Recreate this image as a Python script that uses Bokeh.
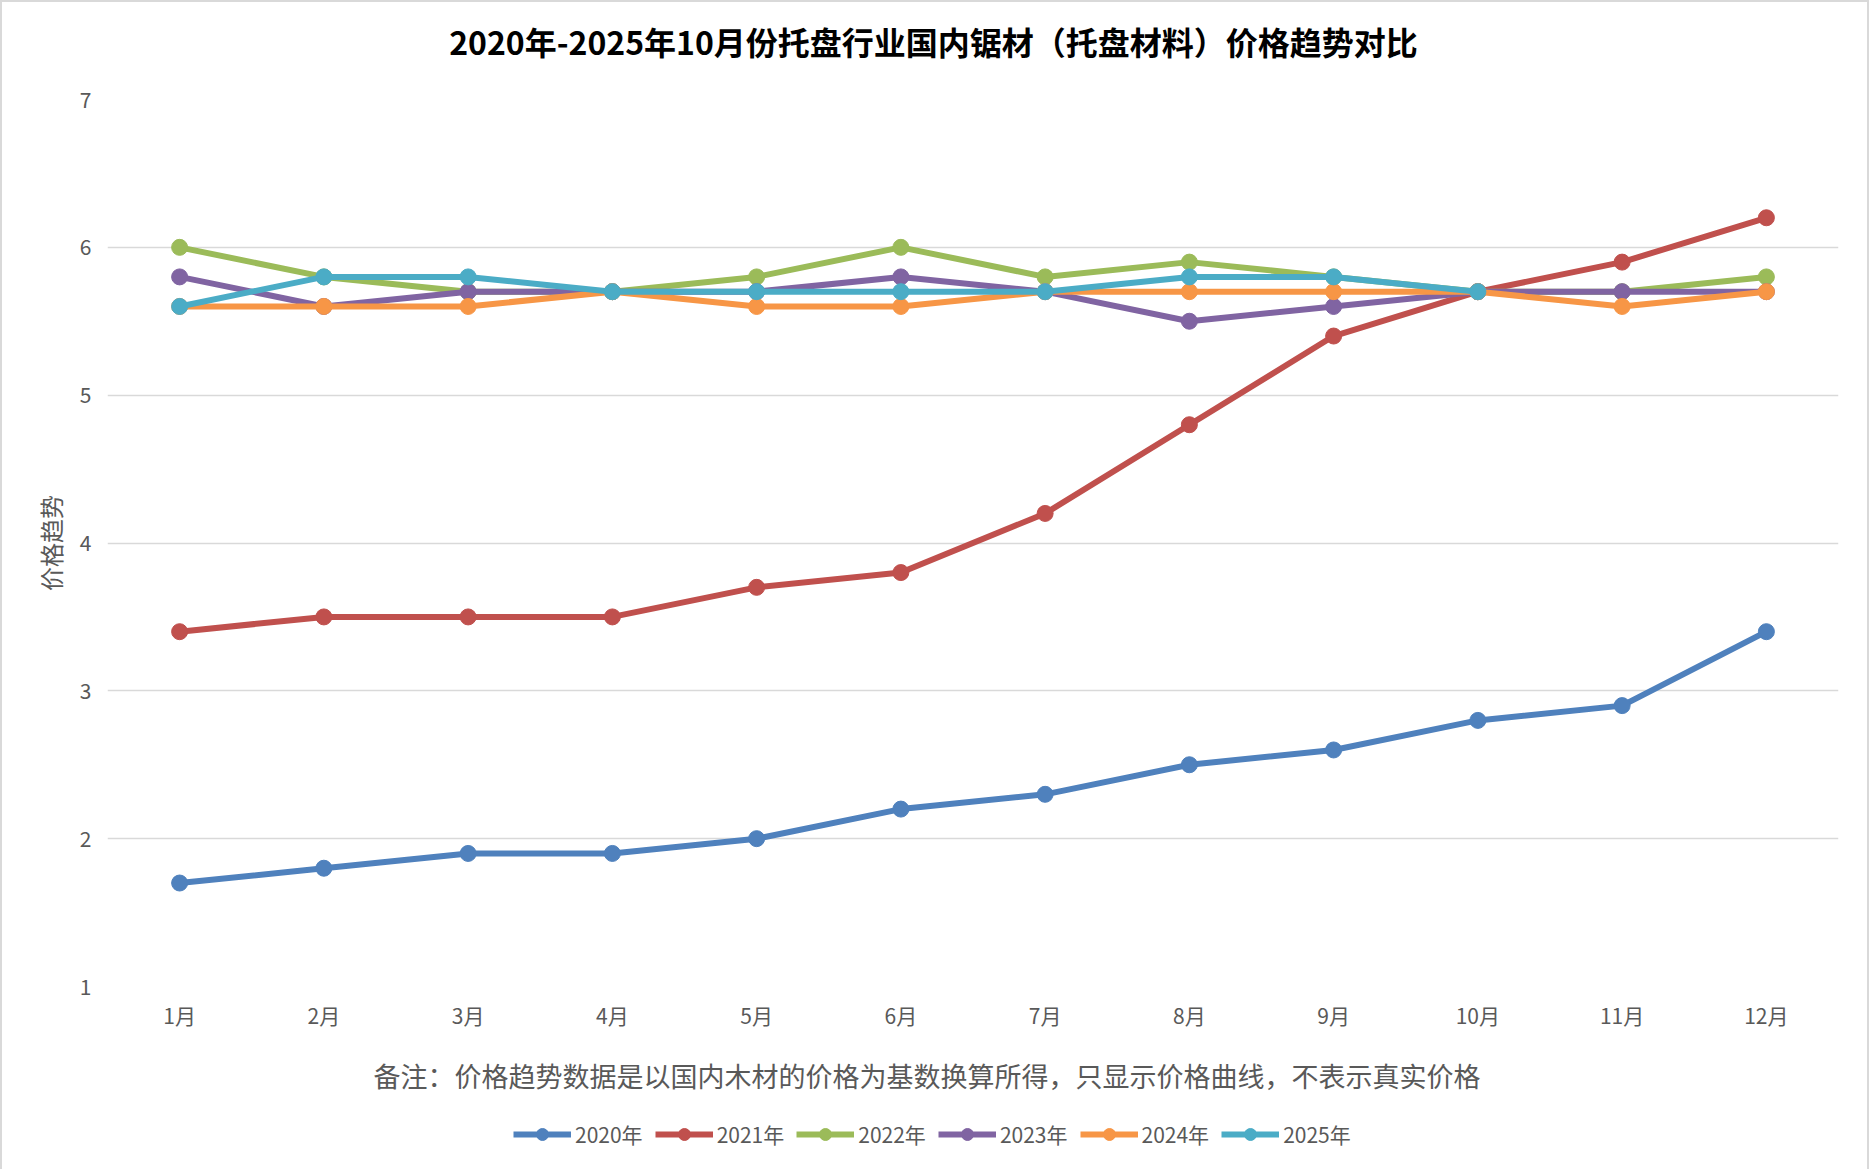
from bokeh.plotting import figure
from bokeh.layouts import column
from bokeh.models import Legend, LegendItem, Title, Label, Range1d, FactorRange
from bokeh.embed import file_html
from bokeh.resources import INLINE

# months on the x axis
months = ["1月", "2月", "3月", "4月", "5月", "6月",
          "7月", "8月", "9月", "10月", "11月", "12月"]

# price trend per year (2025 only up to October)
y2020 = [1.7, 1.8, 1.9, 1.9, 2.0, 2.2, 2.3, 2.5, 2.6, 2.8, 2.9, 3.4]
y2021 = [3.4, 3.5, 3.5, 3.5, 3.7, 3.8, 4.2, 4.8, 5.4, 5.7, 5.9, 6.2]
y2022 = [6.0, 5.8, 5.7, 5.7, 5.8, 6.0, 5.8, 5.9, 5.8, 5.7, 5.7, 5.8]
y2023 = [5.8, 5.6, 5.7, 5.7, 5.7, 5.8, 5.7, 5.5, 5.6, 5.7, 5.7, 5.7]
y2024 = [5.6, 5.6, 5.6, 5.7, 5.6, 5.6, 5.7, 5.7, 5.7, 5.7, 5.6, 5.7]
y2025 = [5.6, 5.8, 5.8, 5.7, 5.7, 5.7, 5.7, 5.8, 5.8, 5.7]

series = [("2020年", y2020, "#4F81BD"),
          ("2021年", y2021, "#C0504D"),
          ("2022年", y2022, "#9BBB59"),
          ("2023年", y2023, "#8064A2"),
          ("2024年", y2024, "#F79646"),
          ("2025年", y2025, "#4BACC6")]

y_ticks = [1, 2, 3, 4, 5, 6, 7]

FONT = "Noto Sans CJK SC"
GREY = "#595959"
NAN = float("nan")


def blank(height):
    # empty strip (no axes) used for the title and the legend;
    # the column lines its frame up with the chart frame below
    f = figure(width=1865, height=height, x_range=Range1d(0, 1), y_range=Range1d(0, 1),
               x_axis_type=None, y_axis_type=None, min_border=0,
               output_backend="svg", toolbar_location=None)
    f.outline_line_color = None
    return f


# --- title strip
top = blank(77)
top.add_layout(Label(x=826, y=39, x_units="screen", y_units="screen",
                     text="2020年-2025年10月份托盘行业国内锯材（托盘材料）价格趋势对比",
                     text_font=FONT, text_font_size="32px", text_font_style="bold",
                     text_color="#000000", text_align="center", text_baseline="middle"))

# --- main chart
p = figure(frame_width=1731, frame_height=887,
           x_range=FactorRange(*months, range_padding=0),
           y_range=Range1d(1, 7),
           output_backend="svg", toolbar_location=None,
           min_border_left=105, min_border_right=29,
           min_border_top=20, min_border_bottom=116)
p.outline_line_color = None

p.yaxis.ticker = y_ticks
p.yaxis.axis_label = "价格趋势"
p.yaxis.axis_label_text_font = FONT
p.yaxis.axis_label_text_font_size = "24px"
p.yaxis.axis_label_text_font_style = "normal"
p.yaxis.axis_label_text_color = GREY
p.yaxis.axis_label_standoff = 9
p.yaxis.major_label_standoff = 10

for ax in (p.xaxis[0], p.yaxis[0]):
    ax.axis_line_color = None
    ax.major_tick_line_color = None
    ax.minor_tick_line_color = None
    ax.major_label_text_font = FONT
    ax.major_label_text_font_size = "21px"
    ax.major_label_text_color = GREY
p.xaxis.major_label_standoff = 7

p.xgrid.grid_line_color = None
p.ygrid.grid_line_color = "#D9D9D9"
p.ygrid.grid_line_width = 1.5

for name, vals, color in series:
    xs = months[:len(vals)]
    p.line(xs, vals, line_color=color, line_width=6)
    p.scatter(xs, vals, size=16, fill_color=color, line_color=color)

note = Title(text="备注：价格趋势数据是以国内木材的价格为基数换算所得，只显示价格曲线，不表示真实价格",
             align="left", offset=266, standoff=43,
             text_font=FONT, text_font_size="27px", text_font_style="normal",
             text_color=GREY)
p.add_layout(note, "below")

# --- legend strip (same line + marker look as the chart; NaN points draw nothing)
bottom = blank(65)
items = []
for name, vals, color in series:
    r_line = bottom.line([NAN], [NAN], line_color=color, line_width=6)
    r_dot = bottom.scatter([NAN], [NAN], size=16, fill_color=color, line_color=color)
    items.append(LegendItem(label=name, renderers=[r_line, r_dot]))

legend = Legend(items=items, orientation="horizontal",
                location=(406, 32), padding=0, margin=0,
                spacing=12, glyph_width=58, glyph_height=30,
                label_height=30, label_standoff=4,
                label_text_font=FONT, label_text_font_size="21px",
                label_text_color=GREY,
                border_line_color=None, background_fill_alpha=0)
bottom.add_layout(legend)

layout = column(top, p, bottom, spacing=0,
                styles={"border": "2px solid #D9D9D9"})

open("out.html", "w").write(file_html(layout, INLINE))
